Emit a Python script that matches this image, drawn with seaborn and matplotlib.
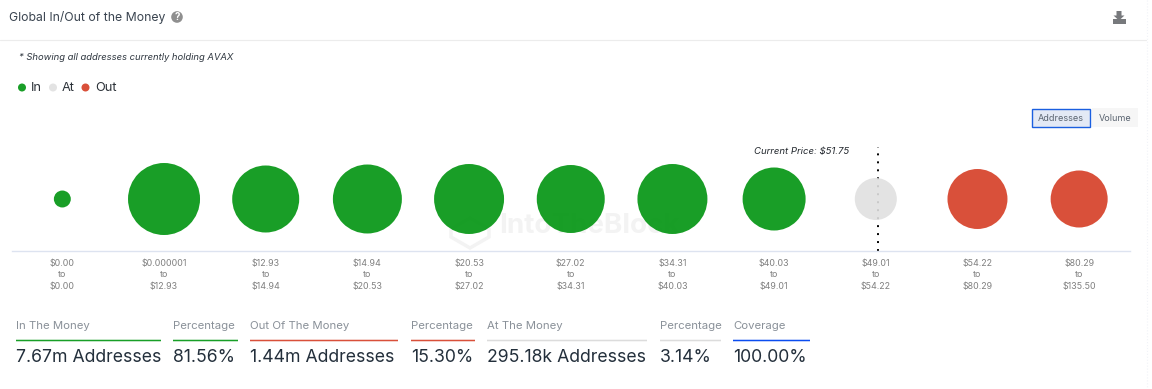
import matplotlib
matplotlib.use('Agg')
import matplotlib.pyplot as plt
from matplotlib.patches import Circle, Rectangle, Polygon
import pandas as pd
import seaborn as sns

# Buckets (addresses in thousands are estimates from bubble area)
range_low = ['$0.00', '$0.000001', '$12.93', '$14.94', '$20.53', '$27.02', '$34.31', '$40.03', '$49.01', '$54.22', '$80.29']
range_high = ['$0.00', '$12.93', '$14.94', '$20.53', '$27.02', '$34.31', '$40.03', '$49.01', '$54.22', '$80.29', '$135.50']
addresses_k = [48, 866, 750, 795, 818, 772, 818, 663, 295, 601, 543]
status = ['In', 'In', 'In', 'In', 'In', 'In', 'In', 'In', 'At', 'Out', 'Out']

current_price = 51.75
current_low = 49.01
current_high = 54.22
current_bucket = 8

# Summary strip
stat_labels = ['In The Money', 'Percentage', 'Out Of The Money', 'Percentage', 'At The Money', 'Percentage', 'Coverage']
stat_values = ['7.67m Addresses', '81.56%', '1.44m Addresses', '15.30%', '295.18k Addresses', '3.14%', '100.00%']
stat_x0 = [16, 173, 250, 411, 487, 660, 733]
stat_x1 = [161, 238, 398, 475, 647, 721, 810]

GREEN = '#00940f'
GREY = '#e0e0e0'
RED = '#d53d24'
palette = {'In': GREEN, 'At': GREY, 'Out': RED}
stat_colors = ['#189f27', '#189f27', '#d9503a', '#d9503a', '#dcdcdc', '#dcdcdc', '#0b4df0']

sns.set_theme(style='white')
plt.rcParams['font.family'] = ['Inter', 'DejaVu Sans']

W, H = 1152, 389
fig = plt.figure(figsize=(W / 100, H / 100), dpi=100, facecolor='white')

# Page furniture in pixel coordinates
bg = fig.add_axes([0, 0, 1, 1], zorder=0)
bg.set_xlim(0, W)
bg.set_ylim(H, 0)
bg.axis('off')

bg.text(9, 17, 'Global In/Out of the Money', fontsize=8.8, color='#3a4450', va='center')
bg.add_patch(Circle((177, 17), 5.8, color='#8f8f8f', lw=0))
bg.text(177, 17.3, '?', fontsize=7, color='white', fontweight='bold', ha='center', va='center')
bg.plot([0, 1146], [39.5, 39.5], color='#ececec', lw=0.8)
bg.plot([1147, 1147], [0, H], color='#f1f3f8', lw=0.8, ls=':')

# download icon
bg.add_patch(Polygon([[1116.5, 11], [1121.5, 11], [1121.5, 15.5], [1124.5, 15.5], [1119, 20.5], [1113.5, 15.5], [1116.5, 15.5]],
                     color='#77797c', lw=0))
bg.add_patch(Rectangle((1113, 19), 13, 4.5, color='#77797c', lw=0))

bg.text(19, 57.5, '* Showing all addresses currently holding AVAX', fontsize=6.8, style='italic', color='#2f3740', va='center')

# legend row
for cx, tx, name in zip([22, 53, 85.5], [31, 62, 95], ['In', 'At', 'Out']):
    bg.add_patch(Circle((cx, 87.5), 4, color=palette[name], alpha=0.9, lw=0))
    bg.text(tx, 87.5, name, fontsize=9.2, color='#2b3138', va='center')

# toggle buttons
bg.add_patch(Rectangle((1031.5, 108.5), 58, 18.5, facecolor='#e3e9f5', edgecolor='#1a5fe0', lw=1))
bg.add_patch(Rectangle((1092, 108), 46, 19, facecolor='#f6f6f6', edgecolor='none'))
bg.text(1060.5, 118, 'Addresses', fontsize=6.5, color='#5a6470', ha='center', va='center')
bg.text(1115, 118, 'Volume', fontsize=6.5, color='#5a6470', ha='center', va='center')

# watermark
bg.add_patch(Polygon([[451, 229], [470, 218], [489, 229], [489, 237], [470, 248], [451, 237]],
                     facecolor='none', edgecolor='#f3f3f3', lw=2.5))
bg.text(499, 226, 'IntoTheBlock', fontsize=20, fontweight='bold', color='#f3f3f3', va='center')

# summary strip
for label, value, x0, x1, c in zip(stat_labels, stat_values, stat_x0, stat_x1, stat_colors):
    bg.text(x0, 326, label, fontsize=8.2, color='#8a9199', va='center')
    bg.plot([x0, x1], [340.5, 340.5], color=c, lw=1.1, solid_capstyle='butt', snap=False)
    bg.text(x0, 358, value, fontsize=12.7, color='#232f3b', va='center')

# Bubble chart
df = pd.DataFrame({'bucket': range(len(addresses_k)), 'level': 0, 'addresses': addresses_k, 'status': status})

ax = fig.add_axes([11.5 / W, 1 - 251 / H, 1118.5 / W, 104 / H], zorder=1, facecolor='none')
sns.scatterplot(data=df, x='bucket', y='level', hue='status', palette=palette, size='addresses',
                sizes=(0, 3104), size_norm=(0, 1000), linewidth=0, alpha=0.9, legend=False, clip_on=False,
                zorder=3, ax=ax)

ax.set_xlim(-0.5, 10.5)
ax.set_ylim(-1, 1)
ax.set_xlabel('')
ax.set_ylabel('')
ax.set_yticks([])
ax.set_xticks(df['bucket'])
ax.set_xticklabels([f'{a}\nto\n{b}' for a, b in zip(range_low, range_high)], fontsize=6.4, color='#808080', linespacing=1.3)
ax.tick_params(axis='x', length=0, pad=6)
sns.despine(ax=ax, left=True)
ax.spines['bottom'].set_color('#dde3f0')
ax.spines['bottom'].set_linewidth(1)

# current price marker, placed inside its bucket
price_pos = current_bucket - 0.5 + (current_price - current_low) / (current_high - current_low)
ax.axvline(price_pos, color='black', lw=1.4, ls=(0, (1, 3.1)), zorder=2)
ax.text(price_pos - 0.29, 0.92, f'Current Price: ${current_price}', fontsize=6.9, style='italic', color='#23282e',
        ha='right', va='center', clip_on=False)

fig.savefig('out.png', dpi=100)
